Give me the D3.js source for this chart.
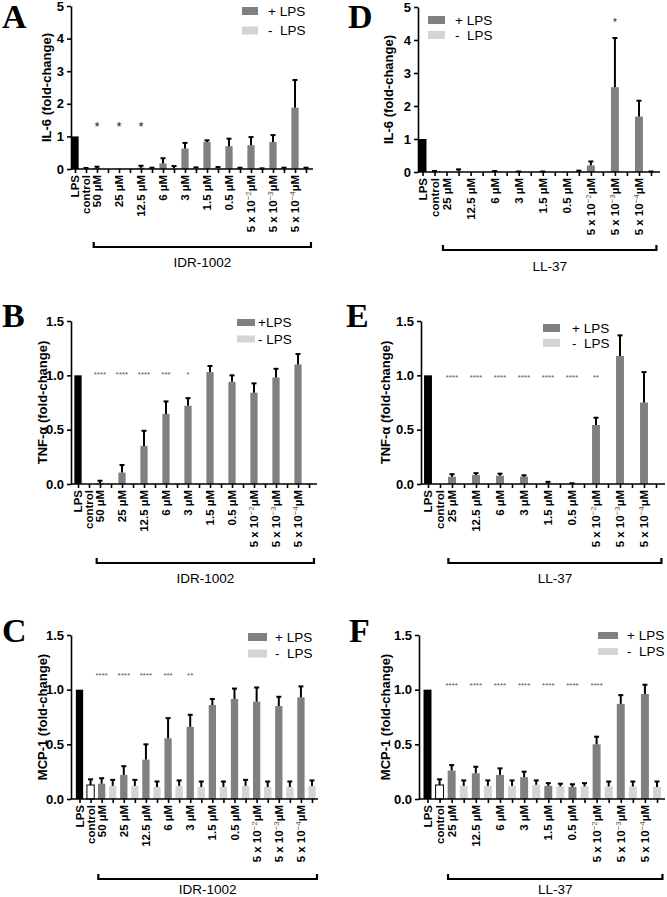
<!DOCTYPE html>
<meta charset="utf-8">
<style>
  body { margin: 0; background: #fff; }
  svg { display: block; background: #fff; }
  text { font-family: "Liberation Sans", Arial, Helvetica, sans-serif; }
  .letter { font-family: "Liberation Serif", "Times New Roman", serif; font-weight: bold; font-size: 34px; }
  .yaxis .tick text { font-weight: bold; font-size: 13px; fill: #000; }
  .yaxis path, .yaxis line, .xaxis line, .axisline { stroke: #000; stroke-width: 1.6px; }
  .xaxis path { display: none; }
  .xlab { font-weight: bold; font-size: 11.5px; }
  .ylab { font-weight: bold; font-size: 13px; text-anchor: middle; }
  .leg { font-size: 13.5px; white-space: pre; }
  .bracket-label { font-size: 13.5px; text-anchor: middle; }
</style>
<svg width="667" height="897"></svg>
<script src="https://d3js.org/d3.v7.min.js"></script>
<script>

// ---- data ----
var idrConc = ["50 µM", "25 µM", "12.5 µM", "6 µM", "3 µM", "1.5 µM", "0.5 µM", "5 x 10^-2 µM", "5 x 10^-3 µM", "5 x 10^-4 µM"];
var llConc = ["25 µM", "12.5 µM", "6 µM", "3 µM", "1.5 µM", "0.5 µM", "5 x 10^-2 µM", "5 x 10^-3 µM", "5 x 10^-4 µM"];

// A: IL-6, IDR-1002
var aPlus     = [0.03, 0.01, 0.04, 0.17, 0.63, 0.83, 0.70, 0.73, 0.83, 1.88];
var aPlusErr  = [0.04, 0, 0.06, 0.16, 0.17, 0.05, 0.23, 0.25, 0.21, 0.85];
var aMinus    = [0, 0.03, 0.03, 0.03, 0.02, 0.03, 0.02, 0.01, 0.02, 0.02];
var aMinusErr = [0, 0, 0.01, 0.06, 0.03, 0.03, 0.02, 0.01, 0.02, 0.02];
var aControl  = [0.02, 0.01];
var aStars    = ["*", "*", "*", "", "", "", "", "", "", ""];

// B: TNF-a, IDR-1002
var bPlus     = [0.01, 0.105, 0.35, 0.645, 0.72, 1.03, 0.94, 0.84, 0.98, 1.10];
var bPlusErr  = [0.02, 0.07, 0.14, 0.115, 0.07, 0.056, 0.06, 0.086, 0.08, 0.096];
var bMinus    = [0.01, 0.01, 0.01, 0.01, 0.01, 0.01, 0.01, 0.01, 0.01, 0.01];
var bMinusErr = [0, 0, 0, 0, 0, 0, 0, 0, 0, 0];
var bControl  = [0, 0];
var bStars    = ["****", "****", "****", "***", "*", "", "", "", "", ""];

// C: MCP-1, IDR-1002
var cPlus     = [0.14, 0.22, 0.36, 0.555, 0.66, 0.86, 0.915, 0.89, 0.85, 0.93];
var cPlusErr  = [0.05, 0.08, 0.14, 0.185, 0.11, 0.055, 0.095, 0.13, 0.085, 0.10];
var cMinus    = [0.12, 0.12, 0.11, 0.12, 0.11, 0.11, 0.12, 0.11, 0.11, 0.12];
var cMinusErr = [0.055, 0.055, 0.05, 0.05, 0.05, 0.05, 0.055, 0.05, 0.05, 0.05];
var cControl  = [0.128, 0.052];
var cStars    = ["****", "****", "****", "***", "**", "", "", "", "", ""];

// D: IL-6, LL-37
var dPlus     = [0, 0, 0.01, 0.005, 0.005, 0.005, 0.2, 2.57, 1.68];
var dPlusErr  = [0, 0, 0.02, 0.01, 0.01, 0, 0.12, 1.49, 0.48];
var dMinus    = [0.03, 0, 0, 0, 0, 0.02, 0, 0, 0.005];
var dMinusErr = [0.05, 0, 0, 0, 0, 0.02, 0, 0, 0.01];
var dControl  = [0.01, 0.02];
var dStars    = ["", "", "", "", "", "", "", "*", ""];

// E: TNF-a, LL-37
var ePlus     = [0.067, 0.083, 0.076, 0.067, 0.005, 0.002, 0.543, 1.178, 0.75];
var ePlusErr  = [0.023, 0.017, 0.019, 0.013, 0.015, 0.005, 0.067, 0.19, 0.28];
var eMinus    = [0, 0.008, 0, 0, 0.008, 0.008, 0.008, 0, 0];
var eMinusErr = [0, 0, 0, 0, 0, 0, 0, 0, 0];
var eControl  = [0, 0];
var eStars    = ["****", "****", "****", "****", "****", "****", "**", "", ""];

// F: MCP-1, LL-37
var fPlus     = [0.26, 0.235, 0.22, 0.2, 0.12, 0.11, 0.5, 0.87, 0.96];
var fPlusErr  = [0.05, 0.06, 0.06, 0.05, 0.025, 0.025, 0.07, 0.08, 0.085];
var fMinus    = [0.12, 0.12, 0.12, 0.13, 0.115, 0.115, 0.115, 0.115, 0.11];
var fMinusErr = [0.05, 0.05, 0.05, 0.04, 0.025, 0.03, 0.045, 0.045, 0.05];
var fControl  = [0.128, 0.052];
var fStars    = ["****", "****", "****", "****", "****", "****", "****", "", ""];

var il6Ticks = [0, 1, 2, 3, 4, 5];
var foldTicks = [0, 0.5, 1.0, 1.5];

var plusColor = "#808080", minusColor = "#d4d4d4";

// ---- panel layout ----
var panels = [
  { letter: "A", lx: 2, ly: 28, conc: idrConc, plus: aPlus, plusErr: aPlusErr, minus: aMinus, minusErr: aMinusErr,
    control: aControl, stars: aStars, peptide: "IDR-1002", yLabel: "IL-6 (fold-change)",
    axisX: 71, first: 75, last: 306, axisEnd: 313, y0: 169, yTop: 6, yMax: 5, ticks: il6Ticks, fmt: "d", ylx: 51,
    starV: 1.4, starSize: 13, starColor: "#222",
    leg: { x: 242, y: 7, w: 16, h: 8, dy: 19.5, tx: 268, labels: ["+ LPS", "-  LPS"] },
    br: { y: 247, ly: 267 } },
  { letter: "B", lx: 2, ly: 327, conc: idrConc, plus: bPlus, plusErr: bPlusErr, minus: bMinus, minusErr: bMinusErr,
    control: bControl, stars: bStars, peptide: "IDR-1002", yLabel: "TNF-\u03b1 (fold-change)",
    axisX: 71, first: 78, last: 309, axisEnd: 317, y0: 484, yTop: 321, yMax: 1.5, ticks: foldTicks, fmt: ".1f", ylx: 47,
    starV: 1.03, starSize: 8, starColor: "#555",
    leg: { x: 237, y: 319, w: 18, h: 7, dy: 16.5, tx: 258, labels: ["+LPS", "- LPS"] },
    br: { y: 563, ly: 583 } },
  { letter: "C", lx: 2, ly: 642, conc: idrConc, plus: cPlus, plusErr: cPlusErr, minus: cMinus, minusErr: cMinusErr,
    control: cControl, stars: cStars, peptide: "IDR-1002", yLabel: "MCP-1 (fold-change)",
    axisX: 71, first: 79.5, last: 312, axisEnd: 318, y0: 799, yTop: 635, yMax: 1.5, ticks: foldTicks, fmt: ".1f", ylx: 47,
    starV: 1.15, starSize: 8, starColor: "#555",
    leg: { x: 248, y: 633, w: 19, h: 8, dy: 16.5, tx: 275, labels: ["+ LPS", "-  LPS"] },
    br: { y: 879, ly: 894 } },
  { letter: "D", lx: 348, ly: 28, conc: llConc, plus: dPlus, plusErr: dPlusErr, minus: dMinus, minusErr: dMinusErr,
    control: dControl, stars: dStars, peptide: "LL-37", yLabel: "IL-6 (fold-change)",
    axisX: 418, first: 422.5, last: 651, axisEnd: 660, y0: 172, yTop: 7, yMax: 5, ticks: il6Ticks, fmt: "d", ylx: 393,
    starV: 4.6, starSize: 10, starColor: "#222",
    leg: { x: 428, y: 16, w: 17, h: 8, dy: 15, tx: 455, labels: ["+ LPS", "-  LPS"] },
    br: { y: 250, ly: 271 } },
  { letter: "E", lx: 346, ly: 327, conc: llConc, plus: ePlus, plusErr: ePlusErr, minus: eMinus, minusErr: eMinusErr,
    control: eControl, stars: eStars, peptide: "LL-37", yLabel: "TNF-\u03b1 (fold-change)",
    axisX: 421, first: 428, last: 656, axisEnd: 665, y0: 484, yTop: 321, yMax: 1.5, ticks: foldTicks, fmt: ".1f", ylx: 390,
    starV: 1.0, starSize: 8, starColor: "#555",
    leg: { x: 543, y: 324, w: 17, h: 8, dy: 15, tx: 572, labels: ["+ LPS", "-  LPS"] },
    br: { y: 563, ly: 583 } },
  { letter: "F", lx: 349, ly: 642, conc: llConc, plus: fPlus, plusErr: fPlusErr, minus: fMinus, minusErr: fMinusErr,
    control: fControl, stars: fStars, peptide: "LL-37", yLabel: "MCP-1 (fold-change)",
    axisX: 419, first: 427.5, last: 657, axisEnd: 665, y0: 799, yTop: 635, yMax: 1.5, ticks: foldTicks, fmt: ".1f", ylx: 390,
    starV: 1.06, starSize: 8, starColor: "#555",
    leg: { x: 598, y: 632, w: 20, h: 7, dy: 16, tx: 627, labels: ["+ LPS", "-  LPS"] },
    br: { y: 879, ly: 894 } }
];

var svg = d3.select("svg");

panels.forEach(drawPanel);

function drawPanel(p) {
  var g = svg.append("g");

  var keys = ["LPS", "control"];
  p.conc.forEach(function(c, i) { keys.push("p" + i, "m" + i); });

  var x = d3.scalePoint().domain(keys).range([p.first, p.last]);
  var bw = x.step() * 0.66;
  var y = d3.scaleLinear().domain([0, p.yMax]).range([p.y0, p.yTop]);

  var bars = [
    { k: "LPS", v: 1, e: 0, fill: "#000" },
    { k: "control", v: p.control[0], e: p.control[1], fill: "#fff", stroke: p.control[0] > 0.02 ? "#000" : "none" }
  ];
  p.plus.forEach(function(v, i) { bars.push({ k: "p" + i, v: v, e: p.plusErr[i], fill: plusColor }); });
  p.minus.forEach(function(v, i) { bars.push({ k: "m" + i, v: v, e: p.minusErr[i], fill: minusColor }); });

  g.selectAll("rect.bar")
      .data(bars)
      .enter().append("rect")
      .attr("class", "bar")
      .attr("x", function(d) { return x(d.k) - bw / 2; })
      .attr("y", function(d) { return y(d.v); })
      .attr("width", bw)
      .attr("height", function(d) { return y(0) - y(d.v); })
      .attr("fill", function(d) { return d.fill; })
      .attr("stroke", function(d) { return d.stroke || "none"; })
      .attr("stroke-width", 1);

  // error bars (upper only)
  var eb = g.selectAll("g.err")
      .data(bars.filter(function(d) { return d.e > 0; }))
      .enter().append("g")
      .attr("class", "err")
      .attr("stroke", "#000")
      .attr("stroke-width", 2);
  eb.append("line")
      .attr("x1", function(d) { return x(d.k); })
      .attr("x2", function(d) { return x(d.k); })
      .attr("y1", function(d) { return y(d.v); })
      .attr("y2", function(d) { return y(d.v + d.e); });
  eb.append("line")
      .attr("x1", function(d) { return x(d.k) - 2.5; })
      .attr("x2", function(d) { return x(d.k) + 2.5; })
      .attr("y1", function(d) { return y(d.v + d.e); })
      .attr("y2", function(d) { return y(d.v + d.e); });

  // y axis
  g.append("g")
      .attr("class", "yaxis")
      .attr("transform", "translate(" + p.axisX + ",0)")
      .call(d3.axisLeft(y).tickValues(p.ticks).tickFormat(d3.format(p.fmt)).tickSize(4).tickSizeOuter(0).tickPadding(3));

  // x axis
  g.append("line")
      .attr("class", "axisline")
      .attr("x1", p.axisX).attr("x2", p.axisEnd)
      .attr("y1", p.y0).attr("y2", p.y0);
  g.append("g")
      .attr("class", "xaxis")
      .attr("transform", "translate(0," + p.y0 + ")")
      .call(d3.axisBottom(x).tickFormat("").tickSize(4).tickSizeOuter(0));

  // x labels
  var labs = [{ k: "LPS", t: "LPS" }, { k: "control", t: "control" }];
  p.conc.forEach(function(c, i) { labs.push({ k: "p" + i, t: c }); });
  labs.forEach(function(d) {
    var t = g.append("text")
        .attr("class", "xlab")
        .attr("text-anchor", "end")
        .attr("transform", "translate(" + (x(d.k) + 4) + "," + (p.y0 + 6) + ") rotate(-90)");
    var m = d.t.match(/^(.*)\^(\S+)\s*(.*)$/);
    if (m) {
      t.append("tspan").text(m[1]);
      t.append("tspan").attr("dy", -4).attr("font-size", 8).attr("font-weight", "normal").attr("fill", "#555").text(m[2].replace("-", "\u2212"));
      t.append("tspan").attr("dy", 4).text(m[3]);
    } else {
      t.text(d.t);
    }
  });

  // significance stars
  g.selectAll("text.star")
      .data(p.stars.map(function(s, i) { return { k: "p" + i, s: s }; }).filter(function(d) { return d.s; }))
      .enter().append("text")
      .attr("class", "star")
      .attr("x", function(d) { return x(d.k); })
      .attr("y", y(p.starV) + p.starSize * 0.57)
      .attr("text-anchor", "middle")
      .attr("font-size", p.starSize)
      .attr("fill", p.starColor)
      .text(function(d) { return d.s; });

  // y label
  g.append("text")
      .attr("class", "ylab")
      .attr("transform", "translate(" + p.ylx + "," + ((p.y0 + p.yTop) / 2) + ") rotate(-90)")
      .text(p.yLabel);

  // panel letter
  g.append("text").attr("class", "letter").attr("x", p.lx).attr("y", p.ly).text(p.letter);

  // legend
  [plusColor, minusColor].forEach(function(c, i) {
    g.append("rect")
        .attr("x", p.leg.x).attr("y", p.leg.y + i * p.leg.dy)
        .attr("width", p.leg.w).attr("height", p.leg.h)
        .attr("fill", c);
    g.append("text")
        .attr("class", "leg")
        .attr("x", p.leg.tx).attr("y", p.leg.y + i * p.leg.dy + p.leg.h / 2 + 4.5)
        .text(p.leg.labels[i]);
  });

  // bracket under the peptide concentrations
  var bx0 = x("p0") - x.step() * 0.3, bx1 = x(keys[keys.length - 1]) + x.step() * 0.45;
  g.append("path")
      .attr("d", "M" + bx0 + "," + (p.br.y - 5) + "V" + p.br.y + "H" + bx1 + "V" + (p.br.y - 5))
      .attr("fill", "none").attr("stroke", "#000").attr("stroke-width", 2.2);
  g.append("text")
      .attr("class", "bracket-label")
      .attr("x", (bx0 + bx1) / 2).attr("y", p.br.ly)
      .text(p.peptide);
}

</script>
